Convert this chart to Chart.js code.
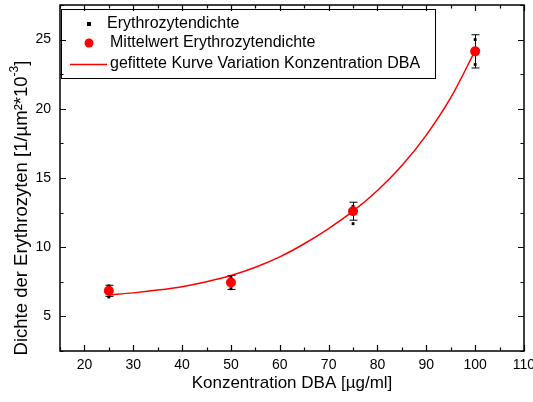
<!DOCTYPE html>
<html>
<head>
<meta charset="utf-8">
<script src="https://cdn.jsdelivr.net/npm/chart.js@4.4.0/dist/chart.umd.min.js"></script>
<style>
  html, body { margin: 0; padding: 0; background: #fff; }
  #wrap { width: 533px; height: 402px; position: relative; }
</style>
</head>
<body>
<div id="wrap"><canvas id="chart"></canvas></div>
<script>
// DBA concentration [µg/ml]
const concentrations = [25, 50, 75, 100];
// mean erythrocyte density per concentration [1/µm²*10^-3]
const meanDensity = [6.85, 7.45, 12.6, 24.15];
// error bar bounds around the means
const errLow  = [6.45, 6.95, 11.95, 22.95];
const errHigh = [7.25, 7.95, 13.25, 25.35];
// single measurements
const sampleConc    = [25, 25, 50, 50, 75, 75, 100, 100];
const sampleDensity = [7.2, 6.4, 7.85, 7.0, 12.95, 11.7, 25.0, 23.2];
const fitConc    = [25, 30, 35, 40, 45, 50, 55, 60, 65, 70, 75, 80, 85, 90, 95, 100];
const fitDensity = [6.55, 6.7, 6.9, 7.15, 7.5, 7.95, 8.55, 9.3, 10.25, 11.35, 12.6, 14.1, 15.9, 18.1, 20.8, 24.2];

const xTicks = [20, 30, 40, 50, 60, 70, 80, 90, 100, 110];
const yTicks = [5, 10, 15, 20, 25];

const legendLabels = [
    "Erythrozytendichte",
    "Mittelwert Erythrozytendichte",
    "gefittete Kurve Variation Konzentration DBA"
];

const FONT = '"Liberation Sans", Arial, sans-serif';
const RED = "#ff0000";

function toPoints(xs, ys) {
    return xs.map((x, i) => ({ x, y: ys[i] }));
}

/* ------------------- error bars ------------------ */
const errorBars = {
    id: "errorBars",
    beforeDatasetsDraw(chart) {
        const { ctx, scales: { x, y } } = chart;
        ctx.save();
        ctx.strokeStyle = "#000";
        ctx.lineWidth = 1;
        concentrations.forEach((c, i) => {
            const px = Math.round(x.getPixelForValue(c)) + 0.5;
            const lo = y.getPixelForValue(errLow[i]);
            const hi = y.getPixelForValue(errHigh[i]);
            ctx.beginPath();
            ctx.moveTo(px, lo);
            ctx.lineTo(px, hi);
            ctx.moveTo(px - 4, hi);
            ctx.lineTo(px + 4, hi);
            ctx.moveTo(px - 4, lo);
            ctx.lineTo(px + 4, lo);
            ctx.stroke();
        });
        ctx.restore();
    }
};

/* ------------------- frame, ticks, titles, legend ------------------ */
const frame = {
    id: "frame",
    afterDraw(chart) {
        const { ctx, chartArea: a, scales: { x, y } } = chart;
        ctx.save();
        ctx.strokeStyle = "#000";
        ctx.lineWidth = 1.5;
        ctx.strokeRect(a.left, a.top, a.right - a.left, a.bottom - a.top);

        // inward ticks on all four sides, minor ticks halfway
        ctx.lineWidth = 1.2;
        ctx.beginPath();
        for (let v = x.min; v <= x.max; v += 5) {
            const px = Math.round(x.getPixelForValue(v)) + 0.5;
            const len = xTicks.includes(v) ? 6 : 3.5;
            ctx.moveTo(px, a.bottom); ctx.lineTo(px, a.bottom - len);
            ctx.moveTo(px, a.top); ctx.lineTo(px, a.top + len);
        }
        for (let v = y.min; v <= y.max; v += 2.5) {
            const py = Math.round(y.getPixelForValue(v)) + 0.5;
            const len = yTicks.includes(v) ? 6 : 3.5;
            ctx.moveTo(a.left, py); ctx.lineTo(a.left + len, py);
            ctx.moveTo(a.right, py); ctx.lineTo(a.right - len, py);
        }
        ctx.stroke();

        // axis titles
        ctx.fillStyle = "#000";
        ctx.textBaseline = "middle";
        ctx.textAlign = "center";
        ctx.font = "17px " + FONT;
        ctx.fillText("Konzentration DBA [µg/ml]", (a.left + a.right) / 2, 383);

        ctx.save();
        ctx.translate(22, 208);
        ctx.rotate(-Math.PI / 2);
        ctx.textAlign = "left";
        const main = "Dichte der Erythrozyten [1/µm²*10";
        const sup = "-3";
        const end = "]";
        ctx.font = "18.5px " + FONT;
        const wMain = ctx.measureText(main).width;
        const wEnd = ctx.measureText(end).width;
        ctx.font = "12px " + FONT;
        const wSup = ctx.measureText(sup).width;
        let cx = -(wMain + wSup + wEnd) / 2;
        ctx.font = "18.5px " + FONT;
        ctx.fillText(main, cx, 0);
        cx += wMain;
        ctx.font = "12px " + FONT;
        ctx.fillText(sup, cx, -7);
        cx += wSup;
        ctx.font = "18.5px " + FONT;
        ctx.fillText(end, cx, 0);
        ctx.restore();

        // legend box
        ctx.lineWidth = 1;
        ctx.strokeRect(61.5, 9.5, 374, 69);
        ctx.font = "16px " + FONT;
        ctx.textAlign = "left";
        ctx.fillRect(87, 22, 4, 4);
        ctx.fillText(legendLabels[0], 107, 24);
        ctx.fillStyle = RED;
        ctx.beginPath();
        ctx.arc(89, 43, 4.5, 0, Math.PI * 2);
        ctx.fill();
        ctx.strokeStyle = RED;
        ctx.lineWidth = 1.3;
        ctx.beginPath();
        ctx.moveTo(70, 64.5);
        ctx.lineTo(107, 64.5);
        ctx.stroke();
        ctx.fillStyle = "#000";
        ctx.fillText(legendLabels[1], 110, 43);
        ctx.fillText(legendLabels[2], 110, 64);
        ctx.restore();
    }
};

const chart = new Chart(document.getElementById("chart"), {
    type: "scatter",
    data: {
        datasets: [
            {
                label: legendLabels[1],
                data: toPoints(concentrations, meanDensity),
                pointStyle: "circle",
                pointRadius: 5,
                backgroundColor: RED,
                borderColor: RED,
                borderWidth: 0
            },
            {
                label: legendLabels[0],
                data: toPoints(sampleConc, sampleDensity),
                pointStyle: "rect",
                pointRadius: 2,
                backgroundColor: "#000",
                borderColor: "#000",
                borderWidth: 0
            },
            {
                label: legendLabels[2],
                data: toPoints(fitConc, fitDensity),
                showLine: true,
                cubicInterpolationMode: "monotone",
                pointRadius: 0,
                borderColor: RED,
                borderWidth: 1.5,
                fill: false
            }
        ]
    },
    options: {
        responsive: true,
        maintainAspectRatio: false,
        animation: false,
        layout: { padding: { left: 0, right: 9, top: 5, bottom: 0 } },
        plugins: {
            legend: { display: false },
            tooltip: { enabled: false }
        },
        scales: {
            x: {
                type: "linear",
                min: 15,
                max: 110,
                grid: { display: false, drawTicks: false },
                border: { display: false },
                afterBuildTicks: (s) => { s.ticks = xTicks.map(v => ({ value: v })); },
                afterFit: (s) => { s.height = 51; s.paddingLeft = 0; s.paddingRight = 0; },
                ticks: {
                    color: "#000",
                    padding: 6,
                    maxRotation: 0,
                    font: { family: FONT, size: 14 }
                }
            },
            y: {
                type: "linear",
                min: 2.5,
                max: 27.5,
                grid: { display: false, drawTicks: false },
                border: { display: false },
                afterBuildTicks: (s) => { s.ticks = yTicks.map(v => ({ value: v })); },
                afterFit: (s) => { s.width = 60; s.paddingTop = 0; s.paddingBottom = 0; },
                ticks: {
                    color: "#000",
                    padding: 9,
                    font: { family: FONT, size: 14 }
                }
            }
        }
    },
    plugins: [errorBars, frame]
});
</script>
</body>
</html>
